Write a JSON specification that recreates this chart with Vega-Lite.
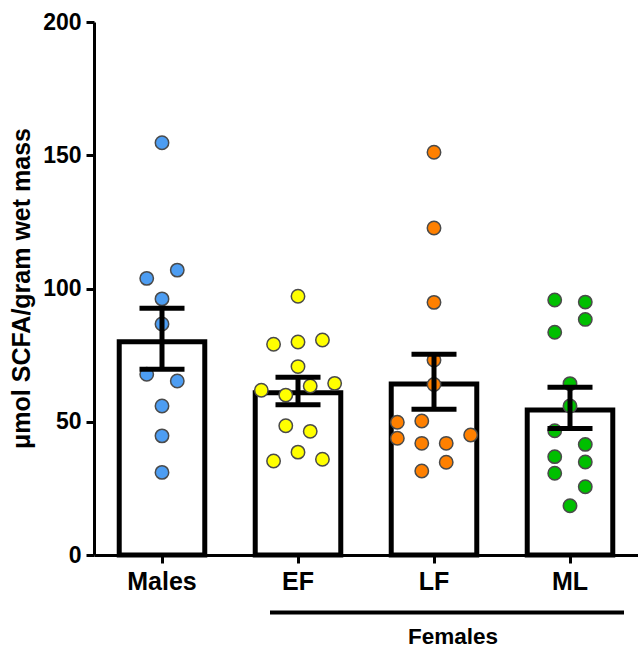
{
  "$schema": "https://vega.github.io/schema/vega-lite/v6.json",
  "width": 544,
  "height": 533,
  "autosize": "none",
  "padding": {"left": 94, "top": 22, "right": 0, "bottom": 94},
  "config": {
    "view": {"stroke": null},
    "font": "Liberation Sans",
    "axis": {"grid": false, "domainColor": "black", "domainWidth": 3, "tickColor": "black", "tickWidth": 3, "tickSize": 8, "labelColor": "black", "labelFontWeight": "bold", "titleColor": "black", "titleFontWeight": "bold"}
  },
  "resolve": {"scale": {"xOffset": "independent"}},
  "datasets": {
    "bars": [
      {"group": "Males", "mean": 80.0, "lo": 69.7, "hi": 92.6},
      {"group": "EF", "mean": 60.9, "lo": 56.4, "hi": 66.7},
      {"group": "LF", "mean": 64.2, "lo": 54.7, "hi": 75.3},
      {"group": "ML", "mean": 54.4, "lo": 47.5, "hi": 62.9}
    ],
    "points": [
      {"group": "Males", "value": 154.7, "jitter": 0},
      {"group": "Males", "value": 103.8, "jitter": -1.25},
      {"group": "Males", "value": 106.9, "jitter": 1.25},
      {"group": "Males", "value": 96.1, "jitter": 0},
      {"group": "Males", "value": 86.7, "jitter": 0},
      {"group": "Males", "value": 67.8, "jitter": -1.25},
      {"group": "Males", "value": 65.3, "jitter": 1.25},
      {"group": "Males", "value": 55.9, "jitter": 0},
      {"group": "Males", "value": 44.7, "jitter": 0},
      {"group": "Males", "value": 31.0, "jitter": 0},
      {"group": "EF", "value": 97.1, "jitter": 0},
      {"group": "EF", "value": 79.1, "jitter": -2},
      {"group": "EF", "value": 79.9, "jitter": 0},
      {"group": "EF", "value": 80.7, "jitter": 2},
      {"group": "EF", "value": 70.7, "jitter": 0},
      {"group": "EF", "value": 61.8, "jitter": -3},
      {"group": "EF", "value": 60.0, "jitter": -1},
      {"group": "EF", "value": 63.4, "jitter": 1},
      {"group": "EF", "value": 64.4, "jitter": 3},
      {"group": "EF", "value": 48.5, "jitter": -1},
      {"group": "EF", "value": 46.4, "jitter": 1},
      {"group": "EF", "value": 38.6, "jitter": 0},
      {"group": "EF", "value": 35.3, "jitter": -2},
      {"group": "EF", "value": 35.9, "jitter": 2},
      {"group": "LF", "value": 151.1, "jitter": 0},
      {"group": "LF", "value": 122.7, "jitter": 0},
      {"group": "LF", "value": 94.8, "jitter": 0},
      {"group": "LF", "value": 73.2, "jitter": 0},
      {"group": "LF", "value": 64.0, "jitter": 0},
      {"group": "LF", "value": 49.8, "jitter": -3},
      {"group": "LF", "value": 50.3, "jitter": -1},
      {"group": "LF", "value": 43.8, "jitter": -3},
      {"group": "LF", "value": 41.9, "jitter": -1},
      {"group": "LF", "value": 41.9, "jitter": 1},
      {"group": "LF", "value": 45.0, "jitter": 3},
      {"group": "LF", "value": 34.8, "jitter": 1},
      {"group": "LF", "value": 31.5, "jitter": -1},
      {"group": "ML", "value": 95.7, "jitter": -1.25},
      {"group": "ML", "value": 94.9, "jitter": 1.25},
      {"group": "ML", "value": 88.4, "jitter": 1.25},
      {"group": "ML", "value": 83.6, "jitter": -1.25},
      {"group": "ML", "value": 64.3, "jitter": 0},
      {"group": "ML", "value": 55.9, "jitter": 0},
      {"group": "ML", "value": 46.6, "jitter": -1.25},
      {"group": "ML", "value": 41.5, "jitter": 1.25},
      {"group": "ML", "value": 36.9, "jitter": -1.25},
      {"group": "ML", "value": 34.9, "jitter": 1.25},
      {"group": "ML", "value": 30.7, "jitter": -1.25},
      {"group": "ML", "value": 25.6, "jitter": 1.25},
      {"group": "ML", "value": 18.5, "jitter": 0}
    ],
    "bracket": [{"label": "Females", "from": "EF", "to": "ML", "mid": "LF"}]
  },
  "layer": [
    {
      "data": {"name": "bars"},
      "mark": {"type": "bar", "fill": "white", "stroke": "black", "strokeWidth": 5},
      "encoding": {
        "x": {"field": "group", "type": "nominal", "sort": ["Males", "EF", "LF", "ML"], "title": null,
          "scale": {"domain": ["Males", "EF", "LF", "ML"], "paddingInner": 0.371, "paddingOuter": 0.1855},
          "axis": {"labelAngle": 0, "labelFontSize": 25, "labelPadding": 6}},
        "y": {"field": "mean", "type": "quantitative", "title": "μmol SCFA/gram wet mass",
          "scale": {"domain": [0, 200]},
          "axis": {"values": [0, 50, 100, 150, 200], "labelFontSize": 23, "labelPadding": 5, "titleFontSize": 25, "titleX": -73, "titleY": 266, "titleBaseline": "middle", "titleAngle": -90, "titleAlign": "center"}}
      }
    },
    {
      "data": {"name": "points"},
      "mark": {"type": "circle", "size": 180, "opacity": 1, "stroke": "#4a4a4a", "strokeWidth": 1.5},
      "encoding": {
        "x": {"field": "group", "type": "nominal", "sort": ["Males", "EF", "LF", "ML"], "title": null},
        "xOffset": {"field": "jitter", "type": "quantitative", "scale": {"domain": [-3.5, 3.5]}},
        "y": {"field": "value", "type": "quantitative", "title": "μmol SCFA/gram wet mass"},
        "color": {"field": "group", "type": "nominal", "legend": null,
          "scale": {"domain": ["Males", "EF", "LF", "ML"], "range": ["#4d9df2", "#ffff00", "#ff8000", "#00bf00"]}}
      }
    },
    {
      "data": {"name": "bars"},
      "mark": {"type": "rule", "strokeWidth": 5, "color": "black"},
      "encoding": {
        "x": {"field": "group", "type": "nominal", "sort": ["Males", "EF", "LF", "ML"], "title": null},
        "y": {"field": "lo", "type": "quantitative", "title": "μmol SCFA/gram wet mass"},
        "y2": {"field": "hi"}
      }
    },
    {
      "data": {"name": "bars"},
      "mark": {"type": "tick", "size": 45, "thickness": 5, "color": "black", "opacity": 1},
      "encoding": {
        "x": {"field": "group", "type": "nominal", "sort": ["Males", "EF", "LF", "ML"], "title": null},
        "y": {"field": "hi", "type": "quantitative", "title": "μmol SCFA/gram wet mass"}
      }
    },
    {
      "data": {"name": "bars"},
      "mark": {"type": "tick", "size": 45, "thickness": 5, "color": "black", "opacity": 1},
      "encoding": {
        "x": {"field": "group", "type": "nominal", "sort": ["Males", "EF", "LF", "ML"], "title": null},
        "y": {"field": "lo", "type": "quantitative", "title": "μmol SCFA/gram wet mass"}
      }
    },
    {
      "data": {"name": "bracket"},
      "mark": {"type": "rule", "strokeWidth": 4, "color": "black", "xOffset": -28, "x2Offset": 54},
      "encoding": {
        "x": {"field": "from", "type": "nominal", "title": null},
        "x2": {"field": "to"},
        "y": {"datum": -21.6}
      }
    },
    {
      "data": {"name": "bracket"},
      "mark": {"type": "text", "fontSize": 22.5, "fontWeight": "bold", "color": "black", "xOffset": 19, "baseline": "middle"},
      "encoding": {
        "x": {"field": "mid", "type": "nominal", "title": null},
        "y": {"datum": -30.7},
        "text": {"field": "label"}
      }
    }
  ]
}
